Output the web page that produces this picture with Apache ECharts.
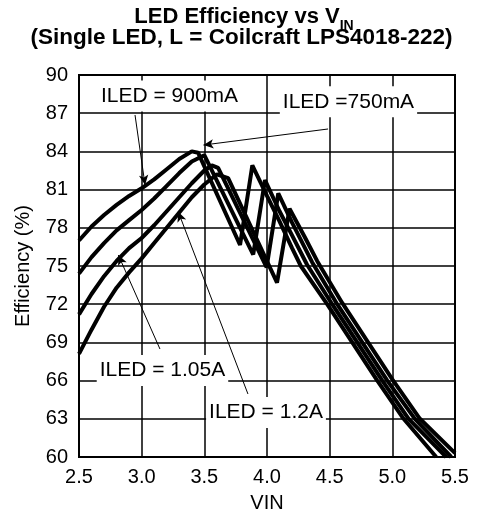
<!DOCTYPE html>
<html>
<head>
<meta charset="utf-8">
<script src="https://cdn.jsdelivr.net/npm/echarts@6/dist/echarts.min.js"></script>
<style>html,body{margin:0;padding:0;background:#fff}#c{width:477px;height:521px}</style>
</head>
<body>
<div id="c"></div>
<script>
// ---- data ----
const xTicks = [2.5, 3.0, 3.5, 4.0, 4.5, 5.0, 5.5];
const yTicks = [60, 63, 66, 69, 72, 75, 78, 81, 84, 87, 90];

const vin750 = [2.5,2.6,2.7,2.8,2.9,3.0,3.1,3.2,3.3,3.4,3.45,3.785,3.883,4.0,4.1,4.2,4.27,4.48,4.68,4.88,5.09,5.35];
const eff750 = [77.0,78.1,79.0,79.8,80.5,81.1,81.8,82.6,83.4,84.0,83.9,76.65,82.9,80.5,78.5,76.4,75.0,72.0,69.0,66.0,63.0,60.0];

const vin900 = [2.5,2.6,2.7,2.8,2.9,3.0,3.1,3.2,3.3,3.4,3.5,3.89,3.984,4.1,4.2,4.32,4.52,4.72,4.92,5.13,5.43];
const eff900 = [74.4,75.7,76.8,77.8,78.6,79.4,80.3,81.3,82.3,83.2,83.7,75.9,81.75,79.3,77.4,75.1,72.0,69.0,66.0,63.0,60.0];

const vin1050 = [2.5,2.6,2.7,2.8,2.9,3.0,3.1,3.2,3.3,3.4,3.5,3.56,3.61,3.997,4.09,4.2,4.36,4.56,4.76,4.96,5.18,5.47];
const eff1050 = [71.2,72.8,74.2,75.4,76.4,77.2,78.2,79.3,80.4,81.5,82.5,82.9,82.7,74.9,80.7,78.4,75.3,72.0,69.0,66.0,63.0,60.0];

const vin1200 = [2.5,2.6,2.7,2.8,2.9,3.0,3.1,3.2,3.3,3.4,3.5,3.6,3.69,4.08,4.18,4.3,4.4,4.6,4.8,5.0,5.22,5.5];
const eff1200 = [68.1,70.0,71.8,73.3,74.5,75.6,76.8,78.0,79.2,80.4,81.4,82.2,81.9,73.7,79.5,77.3,75.4,72.1,69.1,66.1,63.0,60.3];

const seriesNames = ['ILED = 750mA', 'ILED = 900mA', 'ILED = 1.05A', 'ILED = 1.2A'];

// ---- annotations (callout labels and arrows, in data coordinates) ----
const labelTexts = ['ILED = 900mA', 'ILED =750mA', 'ILED = 1.05A', 'ILED = 1.2A'];
const labelAt = [[3.222, 88.35], [4.650, 87.9], [3.166, 66.8], [3.992, 63.5]];
const arrowFrom = [[2.947, 86.86], [4.487, 85.76], [3.146, 68.48], [3.848, 64.95]];
const arrowTo = [[3.027, 81.36], [3.493, 84.50], [2.814, 75.86], [3.292, 79.26]];

const FONT = '"Liberation Sans", Arial, Helvetica, sans-serif';

function pairs(xs, ys) { return xs.map((x, i) => [x, ys[i]]); }

const curves = [[vin750, eff750], [vin900, eff900], [vin1050, eff1050], [vin1200, eff1200]];

const series = curves.map((c, i) => ({
  name: seriesNames[i],
  type: 'line',
  data: pairs(c[0], c[1]),
  symbol: 'none',
  smooth: false,
  lineStyle: { color: '#000', width: 4 },
  z: 3,
  silent: true
}));

series.push({
  type: 'line',
  data: [],
  silent: true,
  z: 4,
  markLine: {
    silent: true,
    animation: false,
    symbol: ['none', 'arrow'],
    symbolSize: [7, 10],
    label: { show: false },
    lineStyle: { color: '#000', width: 1, type: 'solid' },
    emphasis: { disabled: true },
    data: arrowFrom.map((f, i) => [{ coord: f }, { coord: arrowTo[i] }])
  },
  markPoint: {
    silent: true,
    animation: false,
    symbol: 'rect',
    symbolSize: 1,
    itemStyle: { color: 'rgba(0,0,0,0)' },
    data: labelAt.map((p, i) => ({
      coord: p,
      label: {
        show: true,
        position: 'inside',
        formatter: labelTexts[i],
        color: '#000',
        fontSize: 21,
        fontFamily: FONT,
        backgroundColor: '#fff',
        padding: [5, 3, 5, 3]
      }
    }))
  }
});

const chart = echarts.init(document.getElementById('c'), null, { renderer: 'canvas' });
chart.setOption({
  animation: false,
  backgroundColor: '#fff',
  title: [
    {
      text: '{a|LED Efficiency vs V}{s|IN}',
      left: 244, top: 11, textAlign: 'center', padding: 0,
      textStyle: {
        rich: {
          a: { fontSize: 22, fontWeight: 'bold', fontFamily: FONT, color: '#000', lineHeight: 22, padding: [0, 0, 5, 0], verticalAlign: 'bottom' },
          s: { fontSize: 14, fontWeight: 'bold', fontFamily: FONT, color: '#000', lineHeight: 14, verticalAlign: 'bottom' }
        }
      }
    },
    {
      text: '(Single LED, L = Coilcraft LPS4018-222)',
      left: 241.5, top: 27, textAlign: 'center', padding: 0,
      textStyle: { fontSize: 22.5, fontWeight: 'bold', fontFamily: FONT, color: '#000', lineHeight: 22 }
    }
  ],
  grid: { left: 79, right: 22, top: 75, bottom: 64, show: true, borderColor: '#000', borderWidth: 2, backgroundColor: 'transparent' },
  xAxis: {
    type: 'value',
    min: xTicks[0], max: xTicks[xTicks.length - 1], interval: 0.5,
    name: 'VIN', nameLocation: 'middle', nameGap: 36,
    nameTextStyle: { fontSize: 20, fontFamily: FONT, color: '#000' },
    axisLine: { show: true, lineStyle: { color: '#000', width: 2 } },
    axisTick: { show: false },
    axisLabel: { fontSize: 20, fontFamily: FONT, color: '#000', margin: 10, formatter: v => v.toFixed(1), showMinLabel: true, showMaxLabel: true },
    splitLine: { show: true, lineStyle: { color: '#000', width: 1.5 } }
  },
  yAxis: {
    type: 'value',
    min: yTicks[0], max: yTicks[yTicks.length - 1], interval: 3,
    name: 'Efficiency (%)', nameLocation: 'middle', nameGap: 46,
    nameTextStyle: { fontSize: 20, fontFamily: FONT, color: '#000' },
    axisLine: { show: true, lineStyle: { color: '#000', width: 2 } },
    axisTick: { show: false },
    axisLabel: { fontSize: 20, fontFamily: FONT, color: '#000', margin: 11, showMinLabel: true, showMaxLabel: true },
    splitLine: { show: true, lineStyle: { color: '#000', width: 1.5 } }
  },
  series: series
});
</script>
</body>
</html>
